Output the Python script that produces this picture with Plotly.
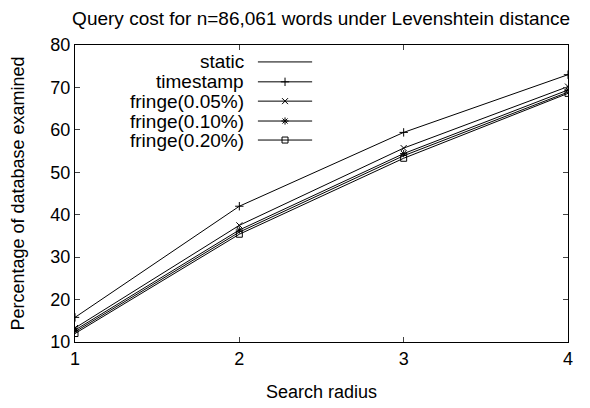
import plotly.graph_objects as go

FONT = "Liberation Sans, Arial, Helvetica, sans-serif"

radius = [1, 2, 3, 4]
static = [12.4, 35.9, 53.9, 68.9]
timestamp = [15.8, 42.0, 59.4, 73.0]
fringe_005 = [13.3, 37.5, 55.7, 70.2]
fringe_010 = [12.8, 36.4, 54.4, 69.4]
fringe_020 = [12.0, 35.4, 53.3, 68.6]

series_names = ["static", "timestamp", "fringe(0.05%)", "fringe(0.10%)", "fringe(0.20%)"]
series_values = [static, timestamp, fringe_005, fringe_010, fringe_020]
symbols = [None, "cross-thin", "x-thin", "asterisk", "square-open"]

y_ticks = [10, 20, 30, 40, 50, 60, 70, 80]

MARKER_SIZE = 6

fig = go.Figure()

for name, values, symbol in zip(series_names, series_values, symbols):
    marker = {"color": "black"}
    mode = "lines"
    if symbol:
        mode = "lines+markers"
        marker = {"symbol": symbol, "size": MARKER_SIZE, "color": "black",
                  "line": {"color": "black", "width": 1}}
    fig.add_trace(go.Scatter(x=radius, y=values, mode=mode, name=name,
                             line={"color": "black", "width": 1}, marker=marker,
                             showlegend=False))

# gnuplot-style key: right-justified text, sample line to its right
key_rows = [0.943, 0.876, 0.811, 0.744, 0.680]
for name, symbol, ky in zip(series_names, symbols, key_rows):
    fig.add_annotation(x=0.345, y=ky, xref="x2", yref="y2", text=name, showarrow=False,
                       xanchor="right", yanchor="middle", borderpad=0,
                       font={"family": FONT, "size": 19, "color": "black"})
    fig.add_shape(type="line", x0=0.371, x1=0.481, y0=ky, y1=ky, xref="x2", yref="y2",
                  line={"color": "black", "width": 1})
    if symbol:
        fig.add_trace(go.Scatter(x=[0.426], y=[ky], xaxis="x2", yaxis="y2", mode="markers",
                                 marker={"symbol": symbol, "size": MARKER_SIZE, "color": "black",
                                         "line": {"color": "black", "width": 1}},
                                 showlegend=False, hoverinfo="skip"))

# page body adds an 8px offset, so the figure is sized and padded to compensate
fig.update_layout(
    width=582, height=400,
    margin={"l": 67, "r": 22, "t": 37, "b": 66},
    paper_bgcolor="white", plot_bgcolor="white",
    font={"family": FONT, "size": 18, "color": "black"},
    title={"text": "Query cost for n=86,061 words under Levenshtein distance",
           "x": 0.538, "xanchor": "center", "y": 0.99, "yanchor": "top",
           "pad": {"t": 0, "b": 0},
           "font": {"family": FONT, "size": 19, "color": "black"}},
    showlegend=False,
    xaxis={"range": [1, 4], "tickvals": radius, "ticks": "inside", "ticklen": 5,
           "showline": True, "linecolor": "black", "linewidth": 1, "mirror": "ticks",
           "showgrid": False, "zeroline": False, "automargin": False,
           "title": {"text": "Search radius", "font": {"size": 18}, "standoff": 17}},
    yaxis={"range": [10, 80], "tickvals": y_ticks, "ticks": "inside", "ticklen": 5,
           "showline": True, "linecolor": "black", "linewidth": 1, "mirror": "ticks",
           "showgrid": False, "zeroline": False, "automargin": False,
           "title": {"text": "Percentage of database examined", "font": {"size": 18}, "standoff": 22}},
    xaxis2={"range": [0, 1], "overlaying": "x", "visible": False},
    yaxis2={"range": [0, 1], "overlaying": "y", "visible": False},
)

fig.write_html("out.html")
